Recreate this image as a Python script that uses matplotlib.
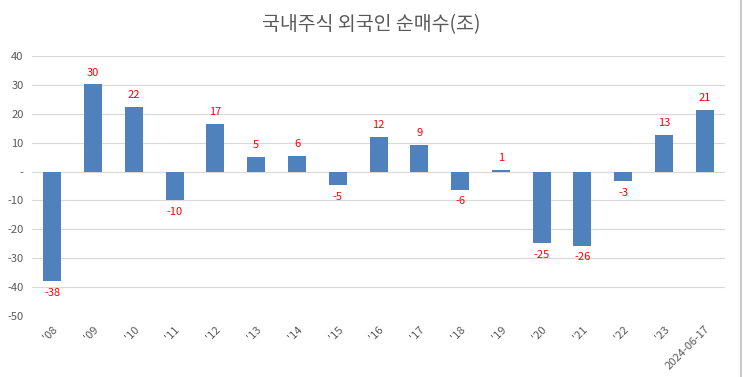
import matplotlib
matplotlib.use('Agg')
import matplotlib.pyplot as plt
from matplotlib.lines import Line2D

plt.rcParams['font.family'] = ['Noto Sans CJK KR', 'DejaVu Sans']

# 국내주식 외국인 순매수 (조원)
years = ["'08", "'09", "'10", "'11", "'12", "'13", "'14", "'15", "'16",
         "'17", "'18", "'19", "'20", "'21", "'22", "'23", "2024-06-17"]
net_buy = [-37.9, 30.2, 22.4, -9.9, 16.6, 5.0, 5.5, -4.6, 12.0,
           9.3, -6.2, 0.6, -24.6, -25.6, -3.4, 12.6, 21.3]

TITLE = '국내주식 외국인 순매수(조)'
GRAY = '#595959'

fig = plt.figure(figsize=(7.43, 3.77), dpi=100)
ax = fig.add_axes([0.043, 0.162, 0.933, 0.689])

x = range(len(years))
ax.bar(x, net_buy, width=0.44, color='#4f81bd', zorder=3)

for i, v in enumerate(net_buy):
    lbl = '%d' % round(v)
    if v >= 0:
        ax.annotate(lbl, (i, v), xytext=(0, 5), textcoords='offset points',
                    ha='center', va='bottom', color='red', fontsize=8)
    else:
        ax.annotate(lbl, (i, v), xytext=(0, -5), textcoords='offset points',
                    ha='center', va='top', color='red', fontsize=8)

ax.set_ylim(-50, 40)
ax.set_xlim(-0.5, len(years) - 0.5)
yt = list(range(-50, 41, 10))
ax.set_yticks(yt)
ax.set_yticklabels(['-' if t == 0 else str(t) for t in yt], color=GRAY, fontsize=8)
ax.set_xticks(list(x))
ax.set_xticklabels(years, rotation=45, ha='right', rotation_mode='anchor',
                   color=GRAY, fontsize=8)
ax.tick_params(length=0, pad=6)
ax.grid(axis='y', color='#d9d9d9', linewidth=0.8, zorder=0)
for s in ax.spines.values():
    s.set_visible(False)

fig.text(0.5, 0.935, TITLE, ha='center', va='center', fontsize=14, color=GRAY)

# chart frame edge on the right
fig.add_artist(Line2D([0.997, 0.997], [0, 1], color='#bfbfbf', linewidth=1.2))

fig.savefig('out.png', dpi=100)
